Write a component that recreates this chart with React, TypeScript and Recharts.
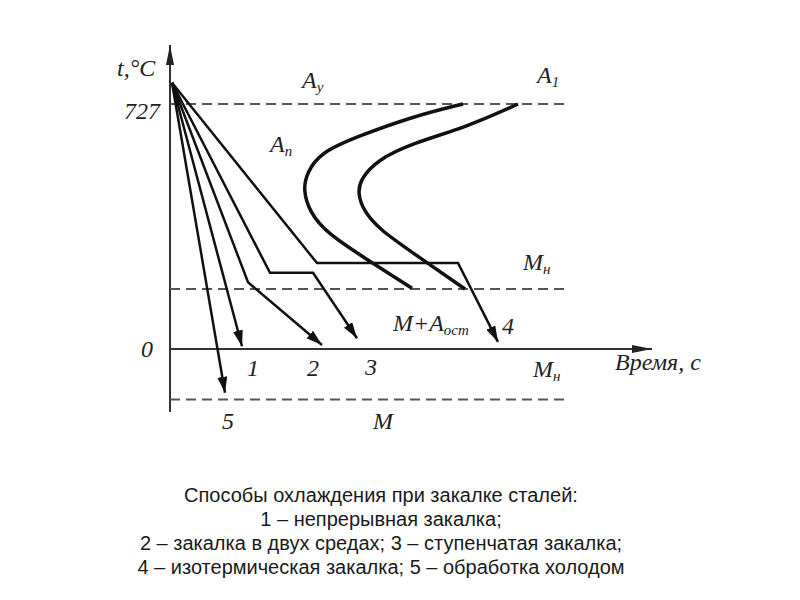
import React from "react";
import {LineChart, Line, XAxis, YAxis, ReferenceDot} from "recharts";

// t - время (усл. ед.), c - температура, °C
const start = {t: 2, c: 790};

const cooling1 = [start, {t: 72, c: 8}];
const cooling2 = [start, {t: 78, c: 198}, {t: 152, c: 12}];
const cooling3 = [start, {t: 100, c: 226}, {t: 143, c: 226}, {t: 187, c: 32}];
const cooling4 = [start, {t: 147, c: 255}, {t: 288, c: 255}, {t: 328, c: 21}];
const cooling5 = [start, {t: 55, c: -130}];

// С-кривые: начало и конец превращения
const cCurveStart = [
    {t: 293, c: 727}, {t: 243, c: 690}, {t: 187, c: 630}, {t: 150, c: 582}, {t: 137, c: 523},
    {t: 133, c: 472}, {t: 140, c: 404}, {t: 157, c: 344}, {t: 193, c: 273}, {t: 242, c: 180},
];
const cCurveEnd = [
    {t: 348, c: 727}, {t: 297, c: 659}, {t: 243, c: 611}, {t: 207, c: 561}, {t: 190, c: 501},
    {t: 188, c: 462}, {t: 193, c: 412}, {t: 210, c: 353}, {t: 243, c: 285}, {t: 295, c: 178},
];

const level727 = [{t: 0, c: 727}, {t: 395, c: 727}];
const levelMs = [{t: 0, c: 178}, {t: 395, c: 178}];
const levelMf = [{t: 0, c: -150}, {t: 395, c: -150}];

const tempAxis = [{t: 0, c: -187}, {t: 0, c: 902}];
const timeAxis = [{t: 0, c: 0}, {t: 482, c: 0}];

const yTicks = [0, 727];

const labels = [
    {t: -53, c: 810, text: "t,°C", sub: "", anchor: "start"},
    {t: 132, c: 774, text: "A", sub: "у", anchor: "start"},
    {t: 100, c: 585, text: "A", sub: "п", anchor: "start"},
    {t: 367, c: 789, text: "A", sub: "1", anchor: "start"},
    {t: 353, c: 234, text: "M", sub: "н", anchor: "start"},
    {t: 223, c: 53, text: "M+A", sub: "ост", anchor: "start"},
    {t: 332, c: 45, text: "4", sub: "", anchor: "start"},
    {t: 363, c: -83, text: "M", sub: "н", anchor: "start"},
    {t: 445, c: -62, text: "Время, с", sub: "", anchor: "start"},
    {t: 83, c: -80, text: "1", sub: "", anchor: "middle"},
    {t: 143, c: -80, text: "2", sub: "", anchor: "middle"},
    {t: 201, c: -77, text: "3", sub: "", anchor: "middle"},
    {t: 58, c: -237, text: "5", sub: "", anchor: "middle"},
    {t: 213, c: -237, text: "M", sub: "", anchor: "middle"},
];

const caption = [
    "Способы охлаждения при закалке сталей:",
    "1 – непрерывная закалка;",
    "2 – закалка в двух средах; 3 – ступенчатая закалка;",
    "4 – изотермическая закалка; 5 – обработка холодом",
];

const serif = '"Liberation Serif", "DejaVu Serif", serif';

function TempTick(props: any) {
    const {x, y, payload} = props;
    const isTop = payload.value === 727;
    return (
        <text x={isTop ? x - 2 : x - 15} y={y + (isTop ? 15 : 8)}
              textAnchor={isTop ? "end" : "middle"}
              fontFamily={serif} fontStyle="italic" fontSize={24} fill="#222">
            {payload.value}
        </text>
    );
}

function App() {
    const pathLine = (data: any[], key: string) => (
        <Line key={key} data={data} dataKey="c" type="linear" stroke="#111" strokeWidth={2.5}
              dot={false} isAnimationActive={false} markerEnd="url(#arrowHead)"/>
    );
    const dashed = (data: any[], key: string) => (
        <Line key={key} data={data} dataKey="c" type="linear" stroke="#555" strokeWidth={2}
              strokeDasharray="10 6" dot={false} isAnimationActive={false}/>
    );
    return (
        <div style={{position: "absolute", left: 0, top: 0, width: 800, height: 600, background: "#fff"}}>
            <LineChart width={800} height={600} margin={{top: 45, right: 148, bottom: 188, left: 110}}>
                <defs>
                    <marker id="arrowHead" viewBox="0 0 16 10" refX="16" refY="5" markerWidth="16"
                            markerHeight="10" markerUnits="userSpaceOnUse" orient="auto">
                        <path d="M0,0 L16,5 L0,10 z" fill="#111"/>
                    </marker>
                    <marker id="axisHead" viewBox="0 0 20 8" refX="20" refY="4" markerWidth="20"
                            markerHeight="8" markerUnits="userSpaceOnUse" orient="auto">
                        <path d="M0,0 L20,4 L0,8 z" fill="#222"/>
                    </marker>
                </defs>
                <XAxis type="number" dataKey="t" domain={[0, 482]} hide/>
                <YAxis type="number" domain={[-187, 902]} ticks={yTicks} width={60}
                       axisLine={false} tickLine={false} tick={<TempTick/>}/>
                <Line data={tempAxis} dataKey="c" type="linear" stroke="#333" strokeWidth={2}
                      dot={false} isAnimationActive={false} markerEnd="url(#axisHead)"/>
                <Line data={timeAxis} dataKey="c" type="linear" stroke="#333" strokeWidth={2}
                      dot={false} isAnimationActive={false} markerEnd="url(#axisHead)"/>
                {dashed(level727, "l727")}
                {dashed(levelMs, "lms")}
                {dashed(levelMf, "lmf")}
                <Line data={cCurveStart} dataKey="c" type="basis" stroke="#111" strokeWidth={3.5}
                      dot={false} isAnimationActive={false}/>
                <Line data={cCurveEnd} dataKey="c" type="basis" stroke="#111" strokeWidth={3.5}
                      dot={false} isAnimationActive={false}/>
                {pathLine(cooling1, "p1")}
                {pathLine(cooling2, "p2")}
                {pathLine(cooling3, "p3")}
                {pathLine(cooling4, "p4")}
                {pathLine(cooling5, "p5")}
                {labels.map((l, i) => (
                    <ReferenceDot key={i} x={l.t} y={l.c} r={0} ifOverflow="visible"
                                  shape={(p: any) => (
                                      <text x={p.cx} y={p.cy} textAnchor={l.anchor} fontFamily={serif}
                                            fontStyle="italic" fontSize={24} fill="#222">
                                          {l.text}
                                          {l.sub && <tspan fontSize={15} dy={4}>{l.sub}</tspan>}
                                      </text>
                                  )}/>
                ))}
            </LineChart>
            <div style={{
                position: "absolute", left: 0, top: 483, width: 762, textAlign: "center",
                fontFamily: '"Liberation Sans", Arial, sans-serif', fontSize: 20, lineHeight: "24px", color: "#1a1a1a"
            }}>
                {caption.map((line, i) => <div key={i}>{line}</div>)}
            </div>
        </div>
    );
}

export default App;
